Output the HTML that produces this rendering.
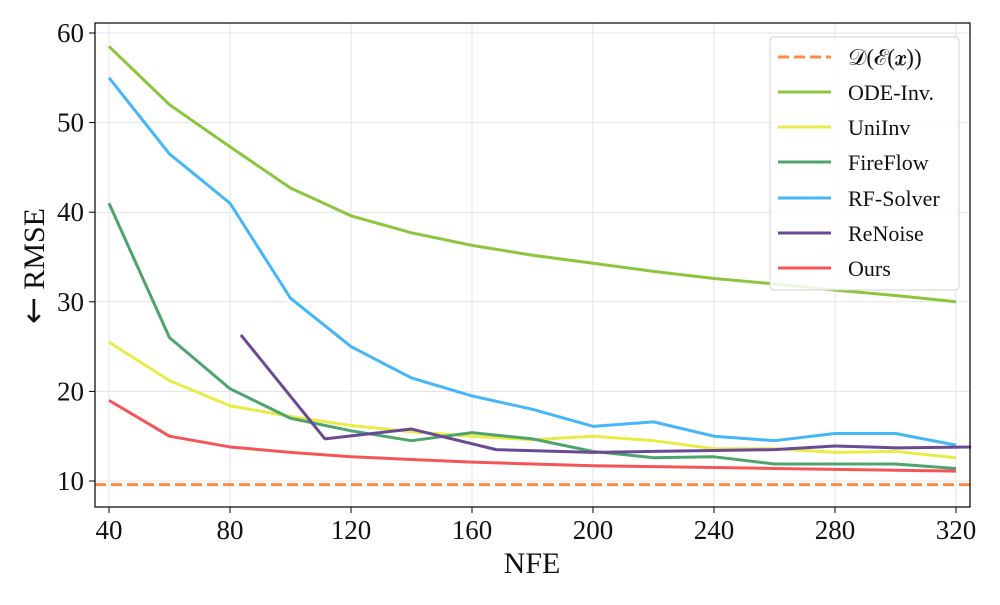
<!DOCTYPE html>
<html><head><meta charset="utf-8"><style>
html,body{margin:0;padding:0;background:#fff;}
svg text{font-family:"Liberation Serif","DejaVu Serif",serif;fill:#111;}
</style></head><body>
<svg id="s" width="1000" height="600" xmlns="http://www.w3.org/2000/svg">
<g id="grid" stroke="#e3e3e3" stroke-width="1"></g>
<g id="series" fill="none" stroke-width="3" stroke-linejoin="round"></g>
<rect x="95" y="23" width="875" height="484" fill="none" stroke="#000" stroke-width="1.2"/>
<g id="ticks"></g>
<text x="532" y="573" font-size="30" text-anchor="middle">NFE</text>
<text transform="translate(44,266) rotate(-90)" font-size="30" text-anchor="middle"><tspan font-family="DejaVu Sans" font-size="32">←</tspan> RMSE</text>
<g id="legend">
<rect x="770" y="37" width="189" height="253" rx="4" fill="#fff" fill-opacity="0.85" stroke="#d0d0d0"/>
</g>
</svg>
<script>
const NS="http://www.w3.org/2000/svg";
const X=n=>109+(n-40)*121/40, Y=v=>481-(v-10)*8.96;
function el(t,a,p){const e=document.createElementNS(NS,t);for(const k in a)e.setAttribute(k,a[k]);document.getElementById(p).appendChild(e);return e;}
const xs=[40,60,80,100,120,140,160,180,200,220,240,260,280,300,320];
for(let n=40;n<=320;n+=40){el('line',{x1:X(n),x2:X(n),y1:23,y2:507},'grid');el('line',{x1:X(n),x2:X(n),y1:507,y2:513,stroke:'#000'},'ticks');const t=el('text',{x:X(n),y:539,'font-size':27,'text-anchor':'middle'},'ticks');t.textContent=n;}
for(let v=10;v<=60;v+=10){el('line',{x1:95,x2:970,y1:Y(v),y2:Y(v)},'grid');el('line',{x1:89,x2:95,y1:Y(v),y2:Y(v),stroke:'#000'},'ticks');const t=el('text',{x:84,y:Y(v)+9,'font-size':27,'text-anchor':'end'},'ticks');t.textContent=v;}
const S=[
['ODE-Inv.','#8cc63f',[58.5,52,47.3,42.7,39.6,37.7,36.3,35.2,34.3,33.4,32.6,32,31.3,30.7,30]],
['UniInv','#e8ec45',[25.5,21.2,18.4,17.2,16.2,15.5,15.0,14.6,15.0,14.5,13.6,13.6,13.2,13.3,12.6]],
['FireFlow','#4fa46e',[41,26,20.3,17,15.6,14.5,15.4,14.7,13.3,12.6,12.7,11.9,11.9,11.9,11.4]],
['RF-Solver','#45b6f7',[55,46.5,41,30.4,25,21.5,19.5,18,16.1,16.6,15,14.5,15.3,15.3,14]],
['ReNoise','#6a4a96',null],
['Ours','#f65558',[19,15,13.8,13.2,12.7,12.4,12.1,11.9,11.7,11.6,11.5,11.4,11.3,11.2,11.1]]];
const ren=[[83.6,26.3],[111.4,14.7],[140,15.8],[168,13.5],[200,13.2],[220,13.3],[240,13.4],[260,13.5],[280,13.9],[300,13.7],[325,13.8]];
el('line',{x1:95,x2:970,y1:Y(9.6),y2:Y(9.6),stroke:'#fa8c45','stroke-width':3,'stroke-dasharray':'11 5'},'series');
S.forEach(([n,c,d])=>{let pts=d?d.map((v,i)=>X(xs[i])+','+Y(v)):ren.map(p=>X(p[0])+','+Y(p[1]));el('polyline',{points:pts.join(' '),stroke:c},'series');});
const ly=[57,92,127,162,198,233,268];
el('line',{x1:778,x2:831,y1:ly[0],y2:ly[0],stroke:'#fa8c45','stroke-width':3,'stroke-dasharray':'11 5'},'legend');
let t=el('text',{x:848,y:ly[0]+8,'font-size':23},'legend');t.textContent='𝒟(ℰ(𝒙))';
S.forEach(([n,c],i)=>{const y=ly[i+1];el('line',{x1:778,x2:831,y1:y,y2:y,stroke:c,'stroke-width':3},'legend');const t=el('text',{x:848,y:y+8,'font-size':22},'legend');t.textContent=n;});
</script>
</body></html>
